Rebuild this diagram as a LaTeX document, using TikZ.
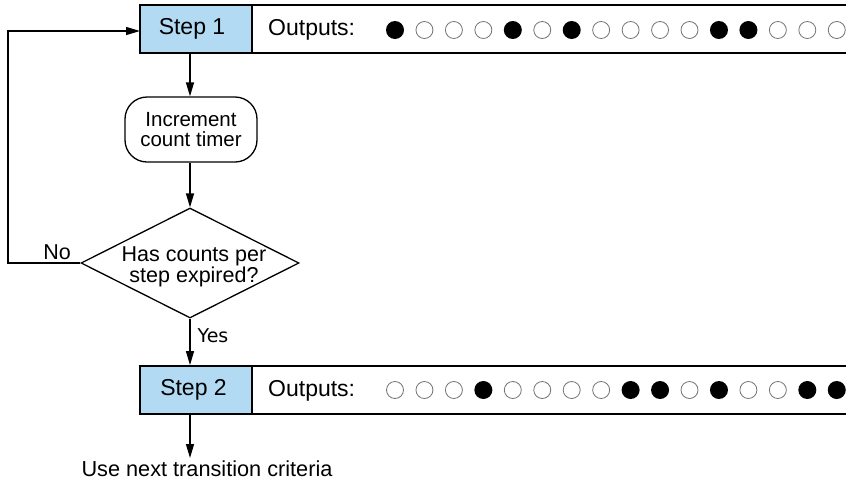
\documentclass[tikz,border=0pt]{standalone}
\usepackage{fontspec}
\setmainfont{Liberation Sans}
\newfontfamily\yesfont{DejaVu Sans}
\usetikzlibrary{arrows.meta,shapes.geometric}
\definecolor{stepblue}{RGB}{178,218,242}
\begin{document}
\begin{tikzpicture}[x=1pt,y=-1pt,
  conn/.style={line width=1.3pt, -{Triangle[length=14pt,width=8pt]}},
  stepbox/.style={draw, line width=1.8pt, fill=stepblue, minimum width=112pt, minimum height=48pt, inner sep=0pt, font=\fontsize{23}{27}\selectfont},
  outbox/.style={draw, line width=1.8pt, fill=white},
  bigtxt/.style={inner sep=0pt, font=\fontsize{23}{27}\selectfont},
  midtxt/.style={inner sep=0pt, align=center, font=\fontsize{21.5}{20}\selectfont},
  incbox/.style={draw, line width=1.3pt, rounded corners=22pt, minimum width=132pt, minimum height=65pt, inner sep=0pt, align=center, font=\fontsize{20.5}{20}\selectfont},
  decbox/.style={draw, diamond, line width=1.3pt, minimum width=218pt, minimum height=110pt, inner sep=0pt},
  offdot/.style={draw=black!55, line width=0.8pt, fill=white},
  ondot/.style={fill=black}]
\useasboundingbox (0,0) rectangle (846,480);
\clip (0,0) rectangle (846,480);
% output strips
\draw[outbox] (252,5) rectangle (880,53);
\draw[outbox] (252,366) rectangle (880,414);
\node[stepbox] (s1) at (196,29) {Step 1\hspace*{8pt}};
\node[stepbox] (s2) at (196,390) {Step 2\hspace*{5pt}};
\node[bigtxt, anchor=west] (o1) at (268,30) {Outputs:};
\node[bigtxt, anchor=west] (o2) at (268,391) {Outputs:};
% output dots
\foreach \v [count=\k from 0] in {1,0,0,0,1,0,1,0,0,0,0,1,1,0,0,0} {
  \pgfmathsetmacro{\cx}{395+29.45*\k}
  \ifnum\v=1 \fill[ondot] (\cx,30) circle[radius=9pt];
  \else \draw[offdot] (\cx,30) circle[radius=8.5pt]; \fi
}
\foreach \v [count=\k from 0] in {0,0,0,1,0,0,0,0,1,1,0,1,0,0,1,1} {
  \pgfmathsetmacro{\cx}{395+29.45*\k}
  \ifnum\v=1 \fill[ondot] (\cx,390) circle[radius=9pt];
  \else \draw[offdot] (\cx,390) circle[radius=8.5pt]; \fi
}
% flow nodes
\node[incbox] (inc) at (191,129.5) {Increment\\count timer};
\node[decbox] (dia) at (190,263) {};
\node[midtxt] (q) at (194,267) {Has counts per\\step expired?};
\node[midtxt] (no) at (57,252) {No};
\node[inner sep=0pt, font=\yesfont\fontsize{19}{20}\selectfont] (yes) at (213,336) {Yes};
\coordinate (end) at (190,458);
\node[midtxt, font=\fontsize{21.7}{22}\selectfont] (ut) at (207,469) {Use next transition criteria};
\coordinate (lp) at (8,0);
\coordinate (in1) at (140,31);
% connectors
\draw[conn] (s1.south -| dia.north) -- (inc.north -| dia.north);
\draw[conn] (inc.south -| dia.north) -- (dia.north);
\draw[conn] (dia.west) -- (lp |- dia.west) -- (lp |- in1) -- (in1);
\draw[conn] (dia.south) -- (dia.south |- s2.north);
\draw[conn] (s2.south -| dia.south) -- (end);
\end{tikzpicture}
\end{document}
